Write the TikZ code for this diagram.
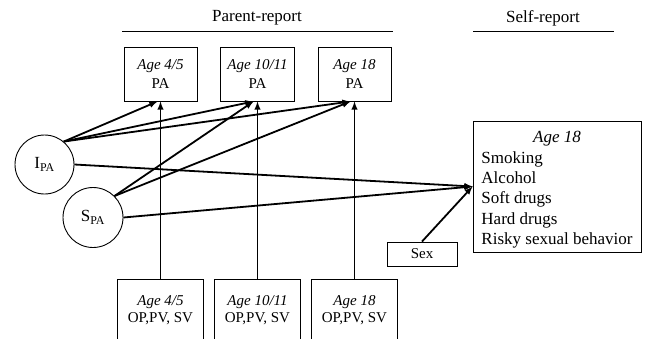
\documentclass[tikz,border=0pt]{standalone}
\usepackage{fontspec}
\setmainfont{Liberation Serif}
\usetikzlibrary{positioning}

\tikzset{
  box/.style={draw, line width=0.9pt, align=center, inner sep=2pt,
    font=\fontsize{15}{18.5}\selectfont},
  latent/.style={draw, circle, line width=0.9pt, minimum size=59pt, inner sep=0pt,
    font=\fontsize{17}{20}\selectfont},
  path/.style={->, >=latex, line width=1.8pt},
  head/.style={font=\fontsize{17}{20}\selectfont}
}

\begin{document}
\begin{tikzpicture}[x=1pt,y=-1pt]

\useasboundingbox (0,0) rectangle (646,338);

% headers
\node[head] (parent) at (257,18) {Parent-report};
\node[head] (self) at (543,18) {Self-report};
\draw [line width=1pt] (122,31) -- (393,31);
\draw [line width=1pt] (473,31) -- (614,31);

% parent-reported PA
\node[box, minimum width=73pt, minimum height=54pt] (pa1) at (160.5,74) {\textit{Age 4/5}\\PA};
\node[box, minimum width=74pt, minimum height=54pt] (pa2) at (257.5,74) {\textit{Age 10/11}\\PA};
\node[box, minimum width=73pt, minimum height=54pt] (pa3) at (354.5,74) {\textit{Age 18}\\PA};

% parenting
\node[box, anchor=north, minimum width=86pt, minimum height=62pt, font=\fontsize{15}{17}\selectfont] (op1) at (160.5,279) {\textit{Age 4/5}\\OP,PV, SV};
\node[box, anchor=north, minimum width=86pt, minimum height=62pt, font=\fontsize{15}{17}\selectfont] (op2) at (257.5,279) {\textit{Age 10/11}\\OP,PV, SV};
\node[box, anchor=north, minimum width=86pt, minimum height=62pt, font=\fontsize{15}{17}\selectfont] (op3) at (354.5,279) {\textit{Age 18}\\OP,PV, SV};

% growth factors
\node[latent] (I) at (44.5,164.5) {I\textsubscript{PA}};
\node[latent, minimum size=60pt] (S) at (93,217.5) {S\textsubscript{PA}};

% outcomes
\node[draw, line width=0.9pt, minimum width=168pt, minimum height=131pt, inner sep=0pt,
  font=\fontsize{17}{20.3}\selectfont] (out) at (557,186.5)
{\raisebox{-3pt}[\height][\depth]{\begin{tabular}{@{}l@{}}
\multicolumn{1}{c}{\textit{Age 18}}\\
Smoking\\
Alcohol\\
Soft drugs\\
Hard drugs\\
Risky sexual behavior
\end{tabular}}};

\node[box, minimum width=70pt, minimum height=24pt, font=\fontsize{15}{17}\selectfont] (sex) at (422,254) {Sex};

\draw [path] (op1.north) -- (pa1.south);
\draw [path] (op2.north) -- (pa2.south);
\draw [path] (op3.north) -- (pa3.south);

\draw [path] (I.50) -- ([xshift=-3pt]pa1.south);
\draw [path] (I.50) -- ([xshift=-4pt]pa2.south);
\draw [path] (I.50) -- ([xshift=-4pt]pa3.south);

\draw [path] (S.45) -- ([xshift=-4pt]pa2.south);
\draw [path] (S.45) -- ([xshift=-4pt]pa3.south);

\draw [path] (I.east) -- (out.west);
\draw [path] (S.east) -- (out.west);
\draw [path] (sex.north) -- (out.west);

\end{tikzpicture}
\end{document}
